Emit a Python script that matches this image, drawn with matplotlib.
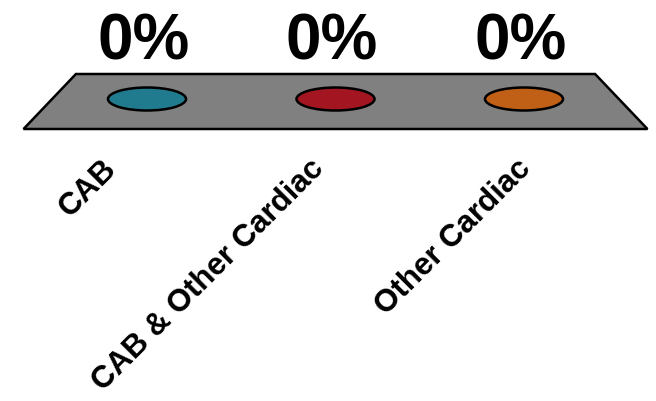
import matplotlib.pyplot as plt
from matplotlib.patches import Ellipse, Polygon

plt.rcParams['font.family'] = ['Liberation Sans', 'DejaVu Sans']

categories = ['CAB', 'CAB & Other Cardiac', 'Other Cardiac']
values = [0, 0, 0]  # percent
value_labels = ['0%', '0%', '0%']
colors = ['#217b8f', '#a31621', '#c06016']

# pseudo-3d floor, x in category units, y in pixel rows (top = 0)
SLOT = 188.5            # pixels per category at bar depth
BACK_Y, FRONT_Y, BAR_Y = 75, 130, 100
BACK_HALF, FRONT_HALF = 1.377, 1.655
PX_PER_PCT = 0.5

fig = plt.figure(figsize=(6.56, 4.02), dpi=100)
ax = fig.add_axes([0, 0, 1, 1])
ax.set_xlim(-147 / SLOT, (656 - 147) / SLOT)
ax.set_ylim(402, 0)
ax.axis('off')

mid = (len(categories) - 1) / 2
floor = Polygon([(mid - BACK_HALF, BACK_Y), (mid + BACK_HALF, BACK_Y),
                 (mid + FRONT_HALF, FRONT_Y), (mid - FRONT_HALF, FRONT_Y)],
                closed=True, facecolor='#808080', edgecolor='black', lw=1.8)
ax.add_patch(floor)

front_scale = FRONT_HALF / ((BACK_HALF + FRONT_HALF) / 2 + (FRONT_HALF - BACK_HALF) * (BAR_Y - (BACK_Y + FRONT_Y) / 2) / (FRONT_Y - BACK_Y))

for i, (v, c) in enumerate(zip(values, colors)):
    top = BAR_Y - v * PX_PER_PCT
    if v > 0:
        ax.add_patch(Polygon([(i - 0.207, BAR_Y), (i - 0.207, top), (i + 0.207, top), (i + 0.207, BAR_Y)],
                             facecolor=c, edgecolor='black', lw=1.8))
        ax.add_patch(Ellipse((i, BAR_Y), 0.414, 23, facecolor=c, edgecolor='black', lw=1.8))
    ax.add_patch(Ellipse((i, top), 0.414, 23, facecolor=c, edgecolor='black', lw=1.8))
    ax.text(i - 0.02, top - 40, value_labels[i], ha='center', va='baseline',
            fontsize=46, fontweight='bold')
    lx = mid + (i - mid) * front_scale - 27 / SLOT
    ax.text(lx, 154, categories[i], rotation=45, rotation_mode='anchor',
            ha='right', va='top', fontsize=22.5, fontweight='bold')

fig.savefig('out.png', dpi=100)
